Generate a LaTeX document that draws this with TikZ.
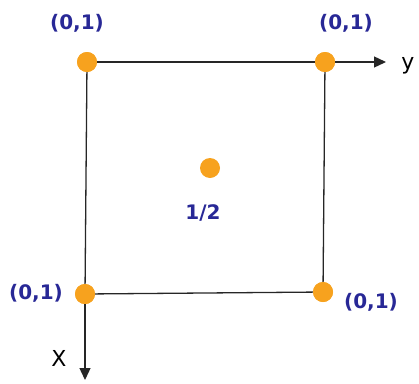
\documentclass[tikz,border=0pt]{standalone}
\usepackage{fontspec}
\setmainfont{DejaVu Sans}
\usetikzlibrary{arrows.meta}
\definecolor{dotorange}{RGB}{247,162,30}
\definecolor{lblblue}{RGB}{40,40,150}
\begin{document}
\begin{tikzpicture}[x=1pt,y=-1pt,
  dot/.style={circle,fill=dotorange,inner sep=0pt,minimum size=20pt},
  lbl/.style={text=lblblue,font=\fontsize{20}{22}\selectfont\bfseries,inner sep=0pt},
  axislbl/.style={text=black,font=\fontsize{22}{24}\selectfont,inner sep=0pt},
  edge/.style={draw=black!85,line width=1.3pt},
  axis/.style={edge,-{Triangle[length=12pt,width=11pt]}}]
\useasboundingbox (0,0) rectangle (419,383);
\coordinate (yend) at (386,62);
\coordinate (xend) at (85,380);
\node[dot] (TL) at (87,62) {};
\node[dot] (TR) at (325,62) {};
\node[dot] (BL) at (85,294) {};
\node[dot] (BR) at (323,292) {};
\node[dot] (C) at (210,168) {};
\draw[edge] (TL.center) -- (TR.center);
\draw[edge] (TL.center) -- (BL.center);
\draw[edge] (TR.center) -- (BR.center);
\draw[edge] (BL.center) -- (BR.center);
\draw[axis] (TR.center) -- (yend);
\draw[axis] (BL.center) -- (xend);
\node[dot] at (TL) {};
\node[dot] at (TR) {};
\node[dot] at (BL) {};
\node[dot] at (BR) {};
\node[lbl] (lTL) at (77,23) {(0,1)};
\node[lbl] (lTR) at (346,23) {(0,1)};
\node[lbl] (lBL) at (36,293) {(0,1)};
\node[lbl] (lBR) at (371,302) {(0,1)};
\node[lbl] (lC) at (203,213) {1/2};
\node[axislbl] (ly) at (408,66) {y};
\node[axislbl] (lx) at (59,358) {X};
\end{tikzpicture}
\end{document}
